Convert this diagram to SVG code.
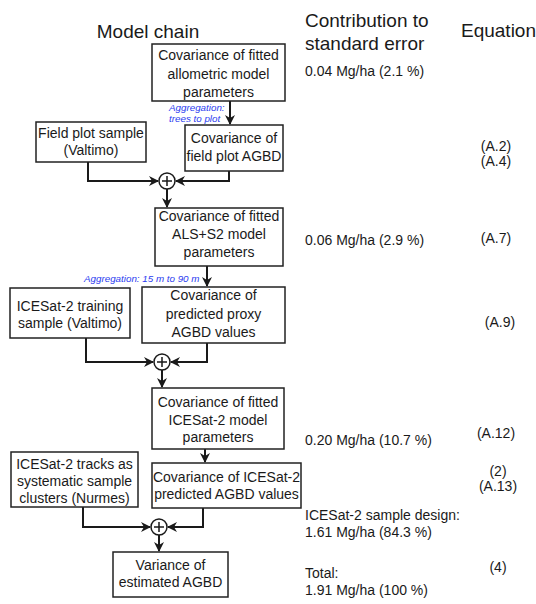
<svg xmlns="http://www.w3.org/2000/svg" width="536" height="604" viewBox="0 0 536 604">
<style>
text{font-family:"Liberation Sans",Arial,sans-serif;fill:#1a1a1a}
.hd{font-size:19px}
.bx{font-size:14px;text-anchor:middle}
.val{font-size:14px}
.eq{font-size:14px;text-anchor:middle}
.agg{font-size:9.8px;font-style:italic;fill:#2b3cf0}
rect{fill:#fff;stroke:#222;stroke-width:1.5}
.c{fill:none;stroke:#1a1a1a;stroke-width:2}
.sum{fill:#fff;stroke:#1a1a1a;stroke-width:1.5}
.plus{stroke:#1a1a1a;stroke-width:1.5}
</style>
<defs>
<marker id="ah" markerWidth="10" markerHeight="10" refX="9" refY="5" orient="auto" markerUnits="userSpaceOnUse">
<path d="M0,0 L10,5 L0,10 L3,5 z" fill="#1a1a1a"/>
</marker>
</defs>

<text class="hd" x="148" y="38" text-anchor="middle">Model chain</text>
<text class="hd" x="305" y="27">Contribution to</text>
<text class="hd" x="305" y="50">standard error</text>
<text class="hd" x="461" y="37">Equation</text>

<g id="connectors">
<path class="c" d="M230,101 V124" marker-end="url(#ah)"/>
<path class="c" d="M88,162 V181 H158" marker-end="url(#ah)"/>
<path class="c" d="M229,171 V181 H176" marker-end="url(#ah)"/>
<path class="c" d="M167,189 V207" marker-end="url(#ah)"/>
<path class="c" d="M207,266 V286" marker-end="url(#ah)"/>
<path class="c" d="M86,338 V362 H153" marker-end="url(#ah)"/>
<path class="c" d="M207,343 V362 H171" marker-end="url(#ah)"/>
<path class="c" d="M162,370 V387" marker-end="url(#ah)"/>
<path class="c" d="M205,449 V462" marker-end="url(#ah)"/>
<path class="c" d="M83,507 V527 H150" marker-end="url(#ah)"/>
<path class="c" d="M203,508 V527 H168" marker-end="url(#ah)"/>
<path class="c" d="M159,535 V551" marker-end="url(#ah)"/>
</g>

<g id="agg1">
<text class="agg" x="169" y="111">Aggregation:</text>
<text class="agg" x="169" y="122">trees to plot</text>
</g>
<g id="agg2">
<text class="agg" x="84" y="282">Aggregation: 15 m to 90 m</text>
</g>

<g id="allometric">
<rect x="152" y="44" width="133" height="57"/>
<text class="bx" x="218.5" y="60">Covariance of fitted</text>
<text class="bx" x="218.5" y="78.5">allometric model</text>
<text class="bx" x="218.5" y="97">parameters</text>
</g>
<g id="fieldplot">
<rect x="36" y="122" width="110" height="40"/>
<text class="bx" x="91" y="137.5">Field plot sample</text>
<text class="bx" x="91" y="155">(Valtimo)</text>
</g>
<g id="fieldagbd">
<rect x="185" y="125" width="98" height="46"/>
<text class="bx" x="234" y="143">Covariance of</text>
<text class="bx" x="234" y="161">field plot AGBD</text>
</g>
<g id="sum1">
<circle class="sum" cx="167" cy="181" r="8"/>
<path class="plus" d="M162,181 H172 M167,176 V186"/>
</g>
<g id="als">
<rect x="155" y="208" width="128" height="58"/>
<text class="bx" x="219" y="221">Covariance of fitted</text>
<text class="bx" x="219" y="239">ALS+S2 model</text>
<text class="bx" x="219" y="257">parameters</text>
</g>
<g id="training">
<rect x="10" y="288" width="120" height="50"/>
<text class="bx" x="70" y="311">ICESat-2 training</text>
<text class="bx" x="70" y="328">sample (Valtimo)</text>
</g>
<g id="proxy">
<rect x="142" y="287" width="143" height="56"/>
<text class="bx" x="213.5" y="300">Covariance of</text>
<text class="bx" x="213.5" y="319">predicted proxy</text>
<text class="bx" x="213.5" y="337">AGBD values</text>
</g>
<g id="sum2">
<circle class="sum" cx="162" cy="362" r="8"/>
<path class="plus" d="M157,362 H167 M162,357 V367"/>
</g>
<g id="icesatmodel">
<rect x="152" y="388" width="132" height="61"/>
<text class="bx" x="218" y="407">Covariance of fitted</text>
<text class="bx" x="218" y="424.5">ICESat-2 model</text>
<text class="bx" x="218" y="442">parameters</text>
</g>
<g id="tracks">
<rect x="11" y="452" width="127" height="55"/>
<text class="bx" x="74.5" y="469">ICESat-2 tracks as</text>
<text class="bx" x="74.5" y="486">systematic sample</text>
<text class="bx" x="74.5" y="503">clusters (Nurmes)</text>
</g>
<g id="predicted">
<rect x="152" y="463" width="149" height="45"/>
<text class="bx" x="226.5" y="482">Covariance of ICESat-2</text>
<text class="bx" x="226.5" y="498.5">predicted AGBD values</text>
</g>
<g id="sum3">
<circle class="sum" cx="159" cy="527" r="8"/>
<path class="plus" d="M154,527 H164 M159,522 V532"/>
</g>
<g id="variance">
<rect x="113" y="552" width="115" height="45"/>
<text class="bx" x="170.5" y="570">Variance of</text>
<text class="bx" x="170.5" y="587">estimated AGBD</text>
</g>

<g id="values">
<text class="val" x="305" y="76">0.04 Mg/ha (2.1 %)</text>
<text class="val" x="305" y="245">0.06 Mg/ha (2.9 %)</text>
<text class="val" x="305" y="445">0.20 Mg/ha (10.7 %)</text>
<text class="val" x="305" y="520">ICESat-2 sample design:</text>
<text class="val" x="305" y="537">1.61 Mg/ha (84.3 %)</text>
<text class="val" x="305" y="578">Total:</text>
<text class="val" x="305" y="595">1.91 Mg/ha (100 %)</text>
</g>
<g id="equations">
<text class="eq" x="496" y="151">(A.2)</text>
<text class="eq" x="496" y="166">(A.4)</text>
<text class="eq" x="496" y="243">(A.7)</text>
<text class="eq" x="500" y="327">(A.9)</text>
<text class="eq" x="496" y="438">(A.12)</text>
<text class="eq" x="498" y="476">(2)</text>
<text class="eq" x="498" y="491">(A.13)</text>
<text class="eq" x="498" y="572">(4)</text>
</g>
</svg>
